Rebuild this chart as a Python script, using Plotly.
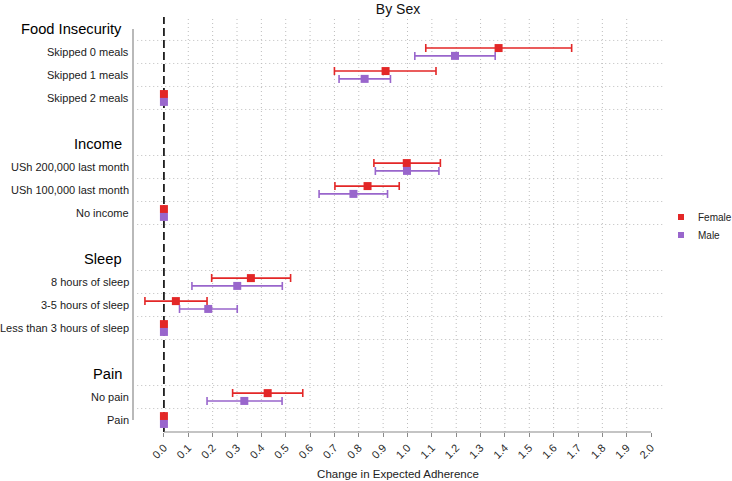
import plotly.graph_objects as go

title = "By Sex"
x_title = "Change in Expected Adherence"

groups = ["Food Insecurity", "Income", "Sleep", "Pain"]
group_of = ["Food Insecurity"] * 3 + ["Income"] * 3 + ["Sleep"] * 3 + ["Pain"] * 2
categories = [
    "Skipped 0 meals", "Skipped 1 meals", "Skipped 2 meals",
    "USh 200,000 last month", "USh 100,000 last month", "No income",
    "8 hours of sleep", "3-5 hours of sleep", "Less than 3 hours of sleep",
    "No pain", "Pain",
]

female_est = [1.374, 0.91, 0.0, 0.997, 0.836, 0.0, 0.357, 0.049, 0.0, 0.426, 0.0]
female_lo = [1.075, 0.70, None, 0.862, 0.702, None, 0.196, -0.078, None, 0.282, None]
female_hi = [1.674, 1.117, None, 1.135, 0.966, None, 0.52, 0.177, None, 0.57, None]

male_est = [1.195, 0.824, 0.0, 0.998, 0.778, 0.0, 0.301, 0.182, 0.0, 0.33, 0.0]
male_lo = [1.03, 0.719, None, 0.868, 0.637, None, 0.115, 0.064, None, 0.177, None]
male_hi = [1.36, 0.93, None, 1.129, 0.918, None, 0.486, 0.301, None, 0.485, None]

x_ticks = [round(i * 0.1, 1) for i in range(21)]
x_ticktext = [f"{v:.1f}" for v in x_ticks]

series = [
    ("Female", female_est, female_lo, female_hi, "#E32727", -0.17),
    ("Male", male_est, male_lo, male_hi, "#9966CC", 0.17),
]

W, H = 732, 481
ML, MR, MT, MB = 133, 69, 17, 49
PW, PH = W - ML - MR, H - MT - MB


def px_to_paper(px, py):
    return (px - ML) / PW, (H - MB - py) / PH


# slot layout: header, rows, blank
slot_of_cat = {}
header_slot = {}
gridline_pos = []
s = 0
for g in groups:
    header_slot[g] = s
    s += 1
    rows = [c for c, gg in zip(categories, group_of) if gg == g]
    gridline_pos.append(s - 0.5)
    for c in rows:
        slot_of_cat[c] = s
        gridline_pos.append(s + 0.5)
        s += 1
    s += 1
last_slot = max(slot_of_cat.values())
gridline_pos = [p for p in gridline_pos if p < last_slot + 0.4]

fig = go.Figure()

for name, est, lo, hi, color, off in series:
    ys = [slot_of_cat[c] + off for c in categories]
    plus = [(h - e) if h is not None else float("nan") for e, h in zip(est, hi)]
    minus = [(e - l) if l is not None else float("nan") for e, l in zip(est, lo)]
    fig.add_trace(go.Scatter(
        x=est, y=ys, mode="markers", name=name, showlegend=False,
        marker=dict(symbol="square", size=8, color=color),
        error_x=dict(type="data", symmetric=False, array=plus, arrayminus=minus,
                     color=color, thickness=1.6, width=4),
        hoverinfo="skip",
    ))

grid_style = dict(color="#bdbdbd", width=1, dash="1px,3px")
shapes = []
for p in gridline_pos:
    shapes.append(dict(type="line", xref="paper", yref="y", x0=0.008, x1=1, y0=p, y1=p,
                       line=grid_style, layer="below"))
for v in x_ticks[1:-1]:
    shapes.append(dict(type="line", xref="x", yref="paper", x0=v, x1=v, y0=0, y1=1,
                       line=grid_style, layer="below"))
shapes.append(dict(type="line", xref="x", yref="paper", x0=0, x1=0, y0=0, y1=1,
                   line=dict(color="black", width=1.6, dash="8px,4px"), layer="below"))
shapes.append(dict(type="line", xref="paper", yref="y", x0=0, x1=0,
                   y0=header_slot[groups[0]], y1=last_slot,
                   line=dict(color="#8a8a8a", width=1.2)))
shapes.append(dict(type="line", xref="x", yref="paper", x0=x_ticks[0], x1=x_ticks[-1],
                   y0=0, y1=0, line=dict(color="#8a8a8a", width=1.2)))

annotations = []
for c in categories:
    annotations.append(dict(text=c, xref="paper", yref="y", x=0, y=slot_of_cat[c],
                            xanchor="right", yanchor="middle", xshift=-2, showarrow=False,
                            font=dict(size=11, color="#1a1a1a", family="Liberation Sans, Arial")))
for g in groups:
    annotations.append(dict(text=g, xref="paper", yref="y", x=0, y=header_slot[g],
                            xanchor="right", yanchor="middle", xshift=-9, showarrow=False,
                            font=dict(size=14.7, color="#000000", family="Liberation Sans, Arial")))

# legend (drawn manually so it fits the narrow right margin)
legend_rows = [(name, color) for name, _, _, _, color, _ in series]
leg_x, leg_y0, leg_dy, sq = 681, 217, 18, 6
for i, (name, color) in enumerate(legend_rows):
    cy = leg_y0 + i * leg_dy
    x0, y0 = px_to_paper(leg_x - sq / 2, cy + sq / 2)
    x1, y1 = px_to_paper(leg_x + sq / 2, cy - sq / 2)
    shapes.append(dict(type="rect", xref="paper", yref="paper", x0=x0, x1=x1, y0=y0, y1=y1,
                       fillcolor=color, line=dict(width=0)))
    tx, ty = px_to_paper(696, cy)
    annotations.append(dict(text=name, xref="paper", yref="paper", x=tx, y=ty,
                            xanchor="left", yanchor="middle", showarrow=False,
                            font=dict(size=10, color="#222222", family="Liberation Sans, Arial")))

fig.update_layout(
    width=W, height=H,
    margin=dict(l=ML, r=MR, t=MT, b=MB, autoexpand=False),
    paper_bgcolor="white", plot_bgcolor="white",
    font=dict(family="Liberation Sans, Arial", color="#222222"),
    title=dict(text=title, x=0.5, xref="paper", xanchor="center", y=1 - 9 / H, yanchor="middle",
               pad=dict(t=0, b=0), font=dict(size=14, color="#111111")),
    xaxis=dict(range=[-0.127, 2.049], tickvals=x_ticks, ticktext=x_ticktext, tickangle=-45,
               ticks="outside", ticklen=4, tickcolor="#8a8a8a", tickwidth=1,
               showgrid=False, zeroline=False, showline=False,
               tickfont=dict(size=11, color="#2a2a2a"),
               title=dict(text=x_title, font=dict(size=11.5, color="#222222"), standoff=10)),
    yaxis=dict(range=[last_slot + 0.52, -0.52], showgrid=False, zeroline=False,
               showticklabels=False, showline=False),
    showlegend=False,
    shapes=shapes, annotations=annotations,
)

fig.write_html("out.html", config={"displayModeBar": False},
               post_script="document.body.style.margin='0px';")
